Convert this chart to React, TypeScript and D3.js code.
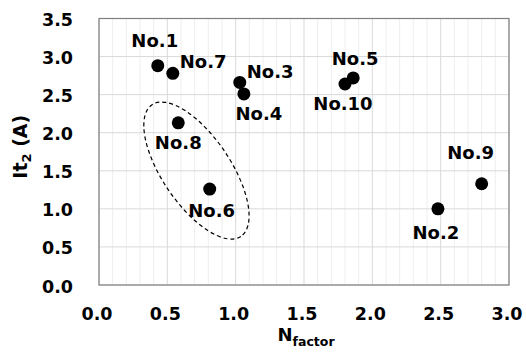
import React from 'react';
import * as d3 from 'd3';

// sample points
const names = ['No.1', 'No.2', 'No.3', 'No.4', 'No.5', 'No.6', 'No.7', 'No.8', 'No.9', 'No.10'];
const nFactor = [0.43, 2.48, 1.03, 1.06, 1.86, 0.81, 0.54, 0.58, 2.80, 1.80];
const it2 = [2.88, 1.00, 2.66, 2.51, 2.72, 1.26, 2.78, 2.13, 1.33, 2.64];

const xTicks = [0, 0.5, 1.0, 1.5, 2.0, 2.5, 3.0];
const yTicks = [0, 0.5, 1.0, 1.5, 2.0, 2.5, 3.0, 3.5];

// label placement: [dx, dy, anchor]
const labelPos: Record<string, [number, number, string]> = {
  'No.1': [-3, -19, 'middle'],
  'No.2': [-2, 30, 'middle'],
  'No.3': [7, -4, 'start'],
  'No.4': [15, 26, 'middle'],
  'No.5': [2, -13, 'middle'],
  'No.6': [2, 28, 'middle'],
  'No.7': [7, -5, 'start'],
  'No.8': [0, 26, 'middle'],
  'No.9': [-11, -25, 'middle'],
  'No.10': [-2, 26, 'middle'],
};

// dashed group ellipse (data centre)
const ellipseCenter = [0.713, 1.503];

export default function App() {
  const W = 526, H = 354;
  const margin = { top: 18.5, right: 17, bottom: 69, left: 99 };
  const x = d3.scaleLinear().domain([0, 3]).range([margin.left, W - margin.right]);
  const y = d3.scaleLinear().domain([0, 3.5]).range([H - margin.bottom, margin.top]);
  const minor = d3.range(0, 3.001, 0.1).filter(v => Math.abs(v * 2 - Math.round(v * 2)) > 1e-6);
  const font = "'DejaVu Sans', Verdana, sans-serif";

  return (
    <svg width={W} height={H} style={{ position: 'absolute', left: 0, top: 0, background: '#fff' }} fontFamily={font}>
      {/* minor vertical grid */}
      {minor.map(v => (
        <line key={'m' + v} x1={x(v)} x2={x(v)} y1={y(0)} y2={y(3.5)} stroke="#eeeeee" strokeWidth={1} />
      ))}
      {xTicks.map(v => (
        <line key={'gx' + v} x1={x(v)} x2={x(v)} y1={y(0)} y2={y(3.5)} stroke="#d9d9d9" strokeWidth={1} />
      ))}
      {yTicks.map(v => (
        <line key={'gy' + v} x1={x(0)} x2={x(3)} y1={y(v)} y2={y(v)} stroke="#d9d9d9" strokeWidth={1} />
      ))}
      <rect x={x(0)} y={y(3.5)} width={x(3) - x(0)} height={y(0) - y(3.5)} fill="none" stroke="#7f7f7f" strokeWidth={1.2} />

      {/* tick labels */}
      {yTicks.map(v => (
        <text key={'ty' + v} x={x(0) - 26} y={y(v) + 7.5} textAnchor="end" fontSize={17.5} fontWeight="bold" fill="#000">
          {v.toFixed(1)}
        </text>
      ))}
      {xTicks.map(v => (
        <text key={'tx' + v} x={x(v) - 2} y={y(0) + 35} textAnchor="middle" fontSize={17.5} fontWeight="bold" fill="#000">
          {v.toFixed(1)}
        </text>
      ))}

      {/* axis titles */}
      <text transform={`translate(27,${(y(0) + y(3.5)) / 2 - 5}) rotate(-90)`} textAnchor="middle" fontSize={19} fontWeight="bold" fill="#000">
        It<tspan fontSize={13} dy={4}>2</tspan><tspan dy={-4}> (A)</tspan>
      </text>
      <text x={(x(0) + x(3)) / 2 + 2} y={341} textAnchor="middle" fontSize={18} fontWeight="bold" fill="#000">
        N<tspan fontSize={12.5} dy={5}>factor</tspan>
      </text>

      {/* ellipse */}
      <ellipse
        cx={0} cy={0} rx={79.4} ry={34.1}
        transform={`translate(${x(ellipseCenter[0])},${y(ellipseCenter[1])}) rotate(56)`}
        fill="none" stroke="#000" strokeWidth={1.2} strokeDasharray="4,3"
      />

      {/* points */}
      {names.map((n, i) => (
        <circle key={n} cx={x(nFactor[i])} cy={y(it2[i])} r={6.5} fill="#000" />
      ))}
      {names.map((n, i) => {
        const [dx, dy, anchor] = labelPos[n];
        return (
          <text key={'l' + n} x={x(nFactor[i]) + dx} y={y(it2[i]) + dy} textAnchor={anchor as any}
            fontSize={18} fontWeight="bold" fill="#000">{n}</text>
        );
      })}
    </svg>
  );
}
